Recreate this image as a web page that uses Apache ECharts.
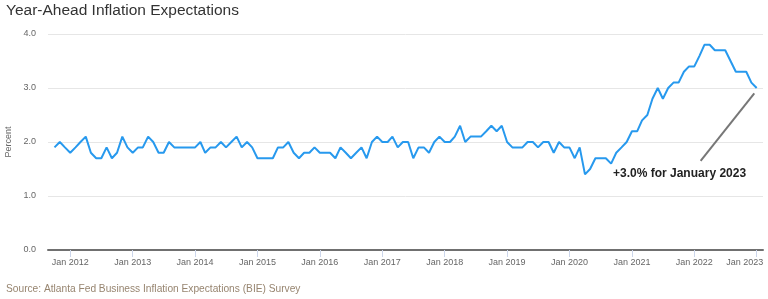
<!DOCTYPE html>
<html>
<head>
<meta charset="utf-8">
<script src="https://cdn.jsdelivr.net/npm/echarts@6/dist/echarts.min.js"></script>
<style>
html,body{margin:0;padding:0;background:#fff;}
#chart{width:768px;height:299px;}
</style>
</head>
<body>
<div id="chart"></div>
<script>
// First observation: October 2011, monthly through January 2023
const startYear = 2011;
const startMonth = 10; // October
const expectations = [
  1.9,2.0,1.9,1.8,1.9,2.0,2.1,1.8,1.7,1.7,1.9,1.7,1.8,2.1,1.9,1.8,1.9,1.9,2.1,2.0,
  1.8,1.8,2.0,1.9,1.9,1.9,1.9,1.9,2.0,1.8,1.9,1.9,2.0,1.9,2.0,2.1,1.9,2.0,1.9,1.7,
  1.7,1.7,1.7,1.9,1.9,2.0,1.8,1.7,1.8,1.8,1.9,1.8,1.8,1.8,1.7,1.9,1.8,1.7,1.8,1.9,
  1.7,2.0,2.1,2.0,2.0,2.1,1.9,2.0,2.0,1.7,1.9,1.9,1.8,2.0,2.1,2.0,2.0,2.1,2.3,2.0,
  2.1,2.1,2.1,2.2,2.3,2.2,2.3,2.0,1.9,1.9,1.9,2.0,2.0,1.9,2.0,2.0,1.8,2.0,1.9,1.9,
  1.7,1.9,1.4,1.5,1.7,1.7,1.7,1.6,1.8,1.9,2.0,2.2,2.2,2.4,2.5,2.8,3.0,2.8,3.0,3.1,
  3.1,3.3,3.4,3.4,3.6,3.8,3.8,3.7,3.7,3.7,3.5,3.3,3.3,3.3,3.1,3.0
];
const tickYears = [2012,2013,2014,2015,2016,2017,2018,2019,2020,2021,2022,2023];
const yTicks = [0,1,2,3,4];
const titleText = 'Year-Ahead Inflation Expectations';
const sourceText = 'Source: Atlanta Fed Business Inflation Expectations (BIE) Survey';
const annotationText = '+3.0% for January 2023';
// annotation pointer line in data space: [date, percent]
const annotationLine = [['2022-02-07', 1.65], ['2022-12-18', 2.90]];
const axisRange = ['2011-08-24', '2023-02-07'];

const seriesData = expectations.map((v, i) => {
  const m = startMonth - 1 + i;
  return [Date.UTC(startYear + Math.floor(m / 12), m % 12, 1), v];
});
const tickValues = tickYears.map(y => Date.UTC(y, 0, 1));
const lastTick = tickValues[tickValues.length - 1];
const toTs = s => Date.parse(s + 'T00:00:00Z');

const FONT = 'Liberation Sans, Arial, Helvetica, sans-serif';
const chart = echarts.init(document.getElementById('chart'), null, {renderer: 'canvas'});
chart.setOption({
  animation: false,
  backgroundColor: '#ffffff',
  title: {
    text: titleText,
    left: 6, top: 3, padding: 0,
    textStyle: {fontFamily: FONT, fontSize: 15.5, fontWeight: 'normal', color: '#333333'}
  },
  grid: {left: 48, right: 5, top: 34, bottom: 49, containLabel: false, outerBoundsMode: 'none'},
  xAxis: {
    type: 'value',
    min: toTs(axisRange[0]),
    max: toTs(axisRange[1]),
    splitLine: {show: false},
    axisLine: {show: true, onZero: false, lineStyle: {color: '#707070', width: 2}},
    axisTick: {show: true, customValues: tickValues, length: 7, lineStyle: {color: '#ccd6eb', width: 1}},
    axisLabel: {
      customValues: tickValues,
      margin: 8,
      hideOverlap: false,
      fontFamily: FONT, fontSize: 9, color: '#666666',
      formatter: v => {
        const s = 'Jan ' + new Date(v).getUTCFullYear();
        return v === lastTick ? '{last|' + s + '}' : s;
      },
      rich: {
        last: {fontFamily: FONT, fontSize: 9, color: '#666666', padding: [0, 24, 0, 0]}
      }
    }
  },
  yAxis: {
    type: 'value',
    min: yTicks[0], max: yTicks[yTicks.length - 1], interval: 1,
    name: 'Percent',
    nameLocation: 'middle',
    nameGap: 30,
    nameRotate: 90,
    nameTextStyle: {fontFamily: FONT, fontSize: 9, color: '#666666'},
    axisLine: {show: false},
    axisTick: {show: false},
    splitLine: {lineStyle: {color: '#e6e6e6', width: 1}},
    axisLabel: {
      margin: 12,
      fontFamily: FONT, fontSize: 9, color: '#666666',
      formatter: v => v.toFixed(1)
    }
  },
  series: [{
    type: 'line',
    data: seriesData,
    showSymbol: false,
    symbol: 'none',
    lineStyle: {color: '#2799ee', width: 2},
    z: 3,
    markLine: {
      silent: true,
      symbol: ['none', 'none'],
      label: {show: false},
      lineStyle: {color: '#777777', width: 2, type: 'solid'},
      data: [[
        {coord: [toTs(annotationLine[0][0]), annotationLine[0][1]]},
        {coord: [toTs(annotationLine[1][0]), annotationLine[1][1]]}
      ]]
    }
  }],
  graphic: [
    {
      type: 'text', left: 613, top: 168,
      style: {text: annotationText, fontFamily: FONT, fontSize: 12, fontWeight: 'bold', fill: '#222222'}
    },
    {
      type: 'text', left: 6, top: 284,
      style: {text: sourceText, fontFamily: FONT, fontSize: 10.2, fill: '#978570'}
    }
  ]
});
</script>
</body>
</html>
